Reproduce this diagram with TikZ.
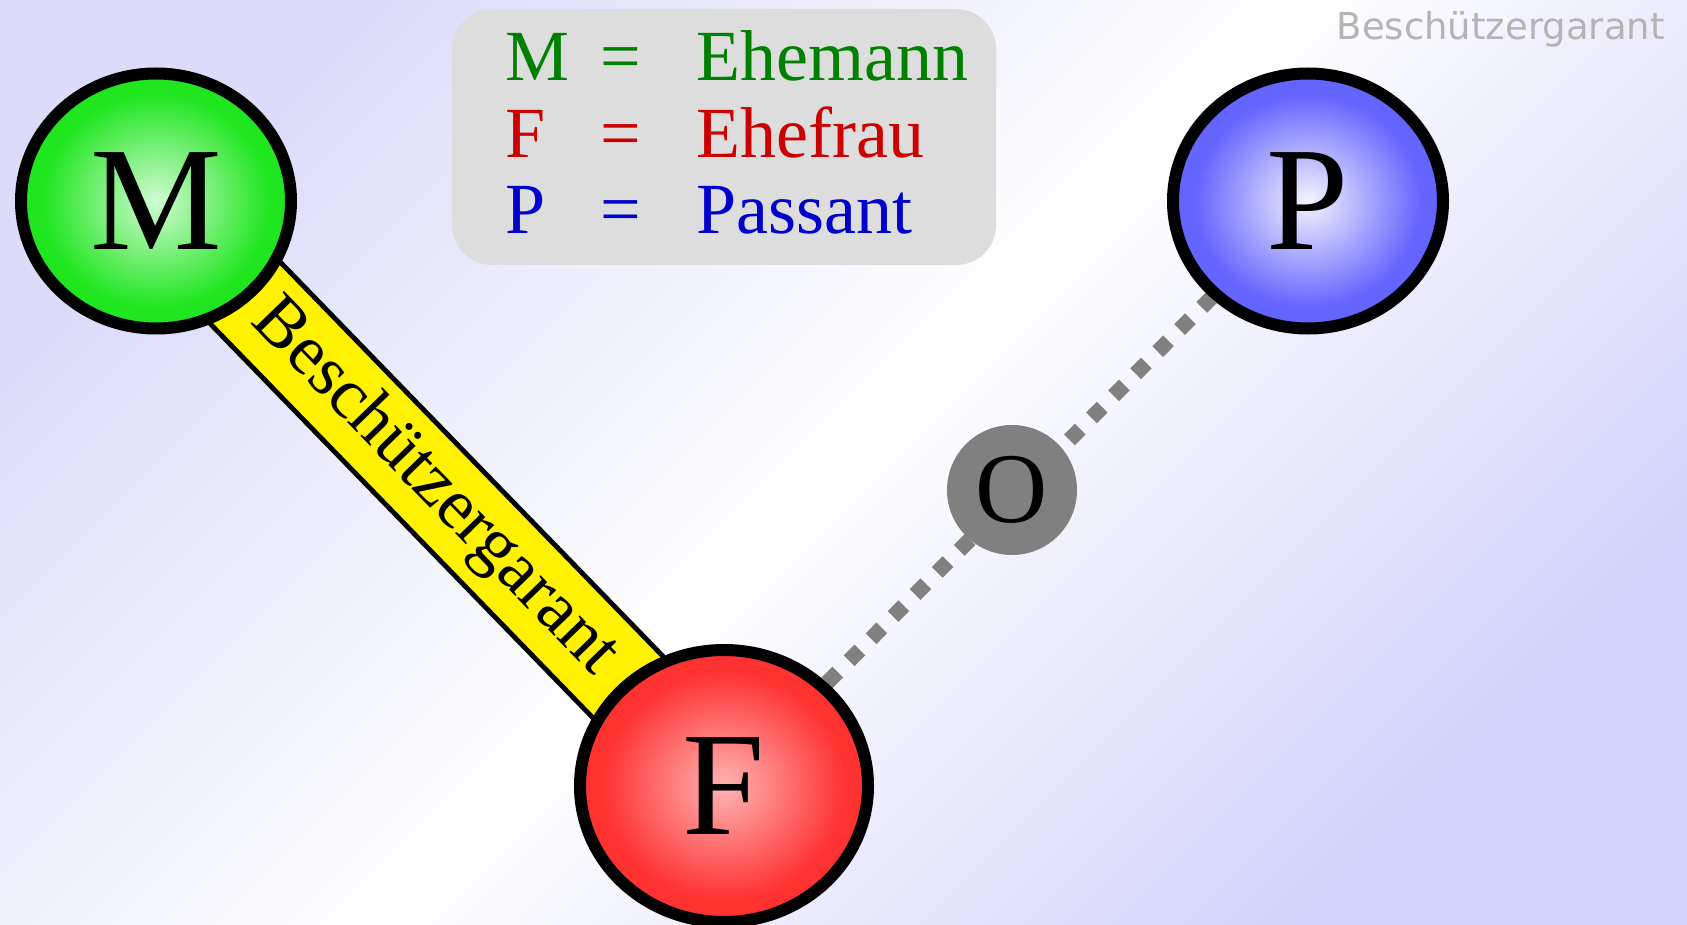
\documentclass[tikz,border=0pt]{standalone}
\usepackage{fontspec}
\setmainfont{Liberation Serif}
\setsansfont{DejaVu Sans}
\usetikzlibrary{shapes.geometric}
\definecolor{mgreen}{HTML}{20E620}
\definecolor{mlight}{HTML}{D2FAD2}
\definecolor{fred}{HTML}{FF3232}
\definecolor{flight}{HTML}{FFB4B4}
\definecolor{pblue}{HTML}{6464FF}
\definecolor{plight}{HTML}{F4F4FF}
\definecolor{lavtop}{HTML}{DCDCFA}
\definecolor{lavbot}{HTML}{D2D2FA}
\definecolor{boxgray}{HTML}{DDDDDD}
\definecolor{taggray}{HTML}{B4B4B4}
\definecolor{keygreen}{HTML}{008000}
\definecolor{keyred}{HTML}{CC0000}
\definecolor{keyblue}{HTML}{0000CC}
\pgfdeclarelayer{back}
\pgfdeclarelayer{links}
\pgfsetlayers{back,links,main}
\makeatletter
\pgfdeclareradialshading[tikz@radial@inner,tikz@radial@outer]{soft}{\pgfpointorigin}{color(0bp)=(tikz@radial@inner); color(21bp)=(tikz@radial@outer); color(50bp)=(tikz@radial@outer)}
\makeatother

\begin{document}
\begin{tikzpicture}[x=0.5pt, y=-0.5pt,
  person/.style={ellipse, draw=black, line width=6pt, inner sep=0pt,
    minimum width=135pt, minimum height=127.5pt,
    font=\fontsize{74}{74}\selectfont},
  man/.style={inner color=mlight, outer color=mgreen, shading=soft},
  wife/.style={inner color=flight, outer color=fred, shading=soft},
  walker/.style={inner color=plight, outer color=pblue, shading=soft},
  bar/.style={line width=#1},
  dots/.style={gray, line width=7.6pt, dash pattern=on 7.6pt off 8pt}]
  \useasboundingbox (0,0) rectangle (1687,925);
  % people
  \node[person, man] (M) at (156,201) {M};
  \node[person, walker] (P) at (1308,201) {P};
  \node[person, wife, minimum width=144pt, minimum height=136pt] (F) at (724,786) {F};
  \node[circle, fill=gray, minimum size=65pt, inner sep=0pt,
    font=\fontsize{50}{50}\selectfont] (O) at (1012,490) {O};
  % legend
  \node[rounded corners=20pt, fill=boxgray, minimum width=272pt,
    minimum height=128pt, inner sep=0pt] (legend) at (724,137) {};
  \node[anchor=base west, inner sep=0pt, font=\fontsize{36}{38.2}\selectfont]
    (key) at (505,80.7) {\begin{tabular}[t]{@{}l@{\hspace{15.3pt}}c@{\hspace{27.8pt}}l@{}}
      \color{keygreen}M & \color{keygreen}= & \color{keygreen}Ehemann\\
      \color{keyred}F & \color{keyred}= & \color{keyred}Ehefrau\\
      \color{keyblue}P & \color{keyblue}= & \color{keyblue}Passant
    \end{tabular}};
  \node[anchor=base east, inner sep=0pt, text=taggray,
    font=\sffamily\fontsize{18.5}{20}\selectfont] (tag) at (1665,40) {Beschützergarant};
  % links
  \begin{pgfonlayer}{links}
    \draw[bar=49pt] (M.center) -- (F.center);
    \draw[bar=44pt, yellow] (M.center) -- (F.center)
      node[pos=0.49, sloped, text=black, font=\fontsize{35.7}{35.7}\selectfont] (guard) {Beschützergarant};
    \draw[dots] (F) -- (P);
  \end{pgfonlayer}
  \begin{pgfonlayer}{back}
    \shade[top color=lavtop, bottom color=lavbot, middle color=white, shading angle=45]
      (0,0) rectangle (1687,925);
  \end{pgfonlayer}
\end{tikzpicture}
\end{document}
